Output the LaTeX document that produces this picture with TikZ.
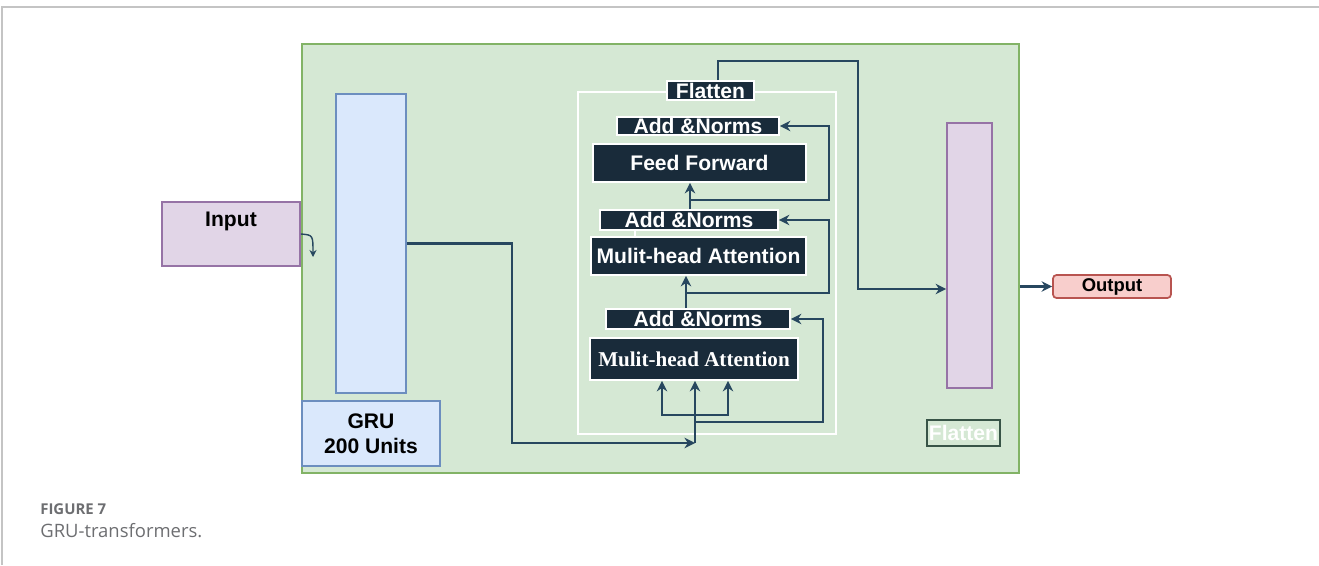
\documentclass[tikz,border=0pt]{standalone}
\usepackage{fontspec}
\setmainfont{Liberation Sans}
\newfontfamily\boxserif{Liberation Serif}
\newfontfamily\capfont{Open Sans}
\usetikzlibrary{arrows.meta,positioning,calc}
\definecolor{Leaf}{HTML}{D5E8D4}
\definecolor{LeafLine}{HTML}{82B366}
\definecolor{Sky}{HTML}{DAE8FC}
\definecolor{SkyLine}{HTML}{6C8EBF}
\definecolor{Lilac}{HTML}{E1D5E7}
\definecolor{LilacLine}{HTML}{9673A6}
\definecolor{Rose}{HTML}{F8CECC}
\definecolor{RoseLine}{HTML}{B85450}
\definecolor{Ink}{HTML}{192B3A}
\definecolor{Wire}{HTML}{27475F}
\definecolor{Page}{HTML}{C4C4C4}
\definecolor{Caption}{HTML}{6D6E71}
\tikzset{
  darkbox/.style={fill=Ink,draw=white,line width=1pt,text=white,inner sep=0pt,
    font=\bfseries\fontsize{12}{14}\selectfont},
  wire/.style={draw=Wire,line width=1.3pt,-{Stealth[length=6pt,width=6pt]}},
  plain/.style={inner sep=0pt,font=\bfseries\fontsize{12}{14}\selectfont},
}

\begin{document}
\begin{tikzpicture}[x=0.02cm,y=-0.02cm]
  \useasboundingbox (0,0) rectangle (1319,565);
  \draw[Page,line width=0.8pt] (2,565) -- (2,7) -- (1319,7);
  % containers
  \node[fill=Leaf,draw=LeafLine,line width=1.3pt,minimum width=14.34cm,minimum height=8.58cm] (frame) at (660.5,258.5) {};
  \node[draw=white,line width=1pt,minimum width=5.16cm,minimum height=6.84cm] (trans) at (707,263) {};
  % input side
  \node[plain,fill=Lilac,draw=LilacLine,line width=1pt,minimum width=2.76cm,inner sep=0.1cm,
    text height=0.39cm,text depth=0.69cm] (input) at (231,234) {Input};
  \node[fill=Sky,draw=SkyLine,line width=1pt,minimum width=1.4cm,minimum height=5.98cm] (gru) at (371,243.5) {};
  \node[plain,fill=Sky,draw=SkyLine,line width=1pt,minimum width=2.76cm,minimum height=1.3cm,align=center] (grulbl) at (371,433.5) {GRU\\200 Units};
  % transformer blocks
  \node[darkbox,minimum width=1.74cm,minimum height=0.38cm] (flat1) at (710.5,90.5) {Flatten};
  \node[darkbox,minimum width=3.24cm,minimum height=0.36cm] (an1) at (698,126) {Add \&Norms};
  \node[darkbox,minimum width=4.26cm,minimum height=0.76cm] (ff) at (699.5,163) {Feed Forward};
  \node[darkbox,minimum width=3.56cm,minimum height=0.4cm] (an2) at (689,220) {Add \&Norms};
  \node[darkbox,minimum width=4.3cm,minimum height=0.76cm] (mha1) at (698.5,256) {Mulit-head Attention};
  \node[darkbox,minimum width=3.68cm,minimum height=0.4cm] (an3) at (698,319) {Add \&Norms};
  \node[darkbox,minimum width=4.16cm,minimum height=0.84cm,font=\boxserif\bfseries\fontsize{12}{14}\selectfont] (mha2) at (694,359) {Mulit-head Attention};
  % output side
  \node[fill=Lilac,draw=LilacLine,line width=1pt,minimum width=0.9cm,minimum height=5.3cm] (dense) at (969.5,255.5) {};
  \node[plain,draw=Ink!70!LeafLine,line width=0.6pt,text=white,minimum width=1.46cm,minimum height=0.52cm] (flat2) at (963.5,433) {Flatten};
  \node[fill=Rose,draw=RoseLine,line width=1pt,rounded corners=2pt,minimum width=2.36cm,minimum height=0.46cm,
    inner sep=0pt,font=\bfseries\fontsize{10.5}{12}\selectfont] (output) at (1112,286.5) {Output};
  % connectors
  \coordinate (split) at (695,443);
  \coordinate (fork) at (695,415);
  \coordinate (res3) at (695,422);
  \draw[wire,line width=0.8pt,-{Stealth[length=4pt,width=4pt]}] (input.east) .. controls (313,235) .. (313,257);
  \draw[wire] (gru.east) -| ($(split)+(-183,0)$) -- (split);
  \draw[wire] (split) -- (split |- mha2.south);
  \draw[wire,{Stealth[length=6pt,width=6pt]}-{Stealth[length=6pt,width=6pt]}] ($(mha2.south)+(-32,0)$) |- (fork) -| ($(mha2.south)+(34,0)$);
  \draw[wire] (res3) -| ($(an3.east)+(32,0)$) -- (an3.east);
  \draw[wire] (an3.north -| 686,0) -- (mha1.south -| 686,0);
  \draw[wire] (686,293) -| ($(an2.east)+(50,0)$) -- (an2.east);
  \draw[white,line width=0.8pt] (an2.south -| 635,0) -- (mha1.north -| 635,0);
  \draw[wire] (an2.north -| 690,0) -- (ff.south -| 690,0);
  \draw[wire] (690,200) -| ($(an1.east)+(49,0)$) -- (an1.east);
  \draw[wire] (flat1.north -| 718,0) -- (718,61) -| (858,289) -- (dense.west |- 0,289);
  \draw[wire] (frame.east |- output.west) -- (output.west);
  % caption
  \node[anchor=base west,inner sep=0pt,text=Caption,font=\capfont\bfseries\fontsize{8.5}{10}\selectfont] (fignum) at (40,514) {FIGURE 7};
  \node[anchor=base west,inner sep=0pt,text=Caption,font=\capfont\fontsize{10.5}{12}\selectfont] (figcap) at (40,537) {GRU-transformers.};
\end{tikzpicture}
\end{document}
